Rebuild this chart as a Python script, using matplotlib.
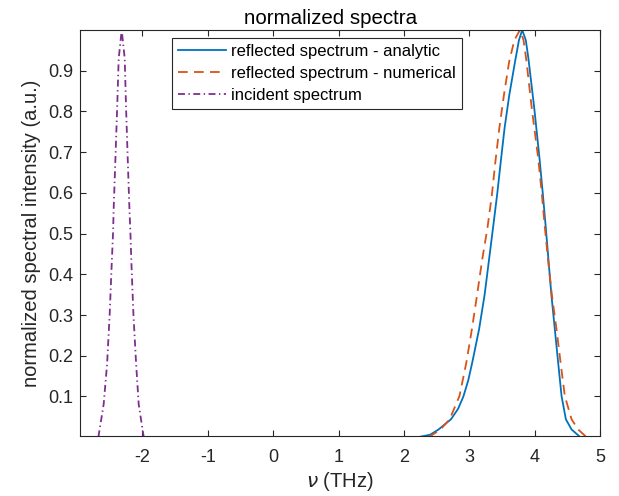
import matplotlib
matplotlib.use('Agg')
import matplotlib.pyplot as plt

plt.rcParams['font.family'] = ['Liberation Sans', 'DejaVu Sans']
plt.rcParams['lines.scale_dashes'] = False

# incident spectrum
inc_nu = [-2.674, -2.593, -2.541, -2.501, -2.470, -2.449, -2.440, -2.413, -2.387,
          -2.363, -2.317, -2.271, -2.250, -2.225, -2.199, -2.184, -2.168, -2.138,
          -2.096, -2.057, -1.980]
inc_val = [0.0, 0.081, 0.179, 0.302, 0.425, 0.503, 0.561, 0.684, 0.807,
           0.93, 1.0, 0.93, 0.807, 0.684, 0.561, 0.503, 0.425, 0.302,
           0.179, 0.081, 0.0]

# reflected spectrum - analytic
ana_nu = [2.211, 2.40, 2.53, 2.72, 2.83, 2.91, 2.985, 3.045, 3.15, 3.235, 3.30, 3.365,
          3.428, 3.482, 3.54, 3.612, 3.70, 3.76, 3.81, 3.865, 3.905, 3.995,
          4.075, 4.125, 4.17, 4.213, 4.256, 4.309, 4.36, 4.412, 4.478, 4.565, 4.70]
ana_val = [0.0, 0.006, 0.019, 0.044, 0.07, 0.10, 0.14, 0.183, 0.265, 0.35, 0.433, 0.516,
           0.598, 0.677, 0.759, 0.84, 0.922, 0.975, 1.0, 0.975, 0.93, 0.807,
           0.684, 0.598, 0.516, 0.433, 0.35, 0.265, 0.183, 0.101, 0.044, 0.019, 0.0]

# reflected spectrum - numerical
num_nu = [2.38, 2.56, 2.70, 2.85, 2.955, 3.04, 3.12, 3.195, 3.28, 3.345,
          3.40, 3.46, 3.53, 3.61, 3.69, 3.775, 3.83, 3.87, 3.957, 4.055,
          4.11, 4.156, 4.207, 4.263, 4.335, 4.397, 4.462, 4.565, 4.666, 4.795]
num_val = [0.0, 0.019, 0.044, 0.101, 0.183, 0.265, 0.35, 0.433, 0.516, 0.594,
           0.677, 0.759, 0.84, 0.922, 0.975, 1.0, 0.975, 0.93, 0.807, 0.684,
           0.598, 0.516, 0.433, 0.35, 0.265, 0.183, 0.101, 0.044, 0.019, 0.0]

x_ticks = [-2, -1, 0, 1, 2, 3, 4, 5]
y_ticks = [0.1, 0.2, 0.3, 0.4, 0.5, 0.6, 0.7, 0.8, 0.9]

fig = plt.figure(figsize=(6.19, 4.96), dpi=100)
ax = fig.add_axes([80 / 619, 60 / 496, 520 / 619, 406 / 496])

ax.plot(ana_nu, ana_val, color='#0072BD', lw=1.3, label='reflected spectrum - analytic')
ax.plot(num_nu, num_val, color='#D95319', lw=1.3, dashes=(7, 4.5),
        label='reflected spectrum - numerical')
ax.plot(inc_nu, inc_val, color='#7E2F8E', lw=1.3, dashes=(5, 2.5, 1, 2.5),
        label='incident spectrum')

ax.set_xlim(-2.955, 5)
ax.set_ylim(0.003, 1)
ax.set_xticks(x_ticks)
ax.set_xticklabels([str(t) for t in x_ticks])
ax.set_yticks(y_ticks)
ax.set_yticklabels([str(t) for t in y_ticks])
ax.tick_params(direction='in', top=True, right=True, length=4, width=0.8,
               labelsize=13, colors='#262626')
ax.tick_params(axis='x', pad=9)
ax.tick_params(axis='y', pad=5)
for s in ax.spines.values():
    s.set_color('#262626')
    s.set_linewidth(0.8)

ax.set_title('normalized spectra', fontsize=14.8, color='black', pad=4, x=0.481)
ax.set_xlabel(r'$\nu$ (THz)', fontsize=14.5, color='#262626', labelpad=3)
ax.set_ylabel('normalized spectral intensity (a.u.)', fontsize=14.5, color='#262626',
              labelpad=5)

leg = ax.legend(loc='upper left', bbox_to_anchor=(92 / 520, 1 - 8 / 406), fontsize=12,
                frameon=True, fancybox=False, framealpha=1, edgecolor='#262626',
                borderpad=0.35, handlelength=2.9, handletextpad=0.3, labelspacing=0.42,
                borderaxespad=0)
leg.get_frame().set_linewidth(0.8)

fig.savefig('out.png', dpi=100)
